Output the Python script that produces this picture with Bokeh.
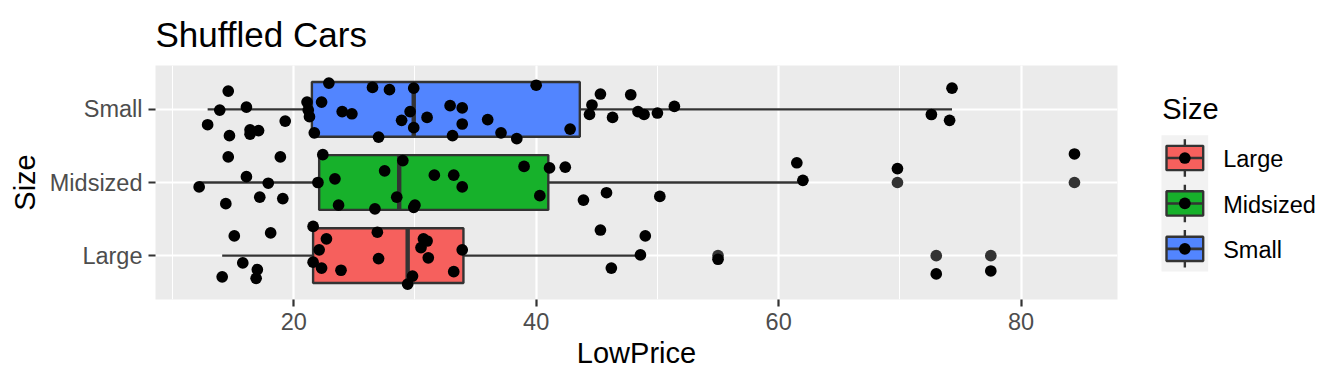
from bokeh.plotting import figure
from bokeh.models import Range1d, FixedTicker, SingleIntervalTicker, ColumnDataSource
from bokeh.layouts import row
from bokeh.embed import file_html
from bokeh.resources import INLINE
from bokeh.core.properties import value

# ---------------- data ----------------
categories = ["Large", "Midsized", "Small"]
colors = ["#F6605D", "#17B12B", "#5285FF"]

# box statistics (LowPrice), order = categories
q1 = [21.6, 22.1, 21.5]
median = [29.4, 28.7, 29.9]
q3 = [34.0, 41.0, 43.6]
whisker_lo = [14.1, 12.2, 12.9]
whisker_hi = [48.4, 61.8, 74.3]
outliers_large = [55.0, 73.0, 77.5]
outliers_mid = [69.8, 84.4]
outliers_small = []

# jittered observations
large_price = [15.1, 18.1, 21.6, 22.7, 22.1, 21.6, 22.3, 23.9, 26.9, 27.0, 15.8, 17.0, 16.9, 14.1,
               30.7, 31.0, 30.5, 31.1, 33.9, 33.2, 29.8, 29.4, 45.3, 49.0, 48.6, 46.2, 55.0, 73.0, 77.5]
large_jitter = [0.27, 0.31, 0.40, 0.23, 0.08, -0.09, -0.17, -0.20, 0.32, -0.04, -0.10, -0.19, -0.31, -0.29,
                0.23, 0.20, 0.11, -0.03, 0.08, -0.22, -0.28, -0.39, 0.35, 0.27, 0.01, -0.17, -0.05, -0.25, -0.21]
mid_price = [14.6, 18.9, 22.4, 29.0, 27.5, 31.6, 33.2, 33.9, 16.1, 17.9, 12.2, 22.0, 23.4, 14.4, 17.2,
             19.1, 23.7, 26.7, 28.5, 30.0, 29.9, 39.0, 41.1, 42.4, 61.5, 62.0, 45.8, 40.3, 43.9, 50.2, 69.8, 84.4]
mid_jitter = [0.35, 0.35, 0.38, 0.30, 0.16, 0.10, 0.10, -0.06, 0.08, -0.01, -0.06, 0.00, 0.05, -0.29, -0.20,
              -0.22, -0.31, -0.36, -0.20, -0.31, -0.34, 0.22, 0.20, 0.21, 0.27, 0.03, -0.14, -0.18, -0.24, -0.19, 0.19, 0.39]
small_price = [14.6, 13.9, 16.1, 12.9, 14.7, 16.4, 16.4, 17.1, 19.3, 21.1, 21.2, 21.3, 21.7, 22.9, 22.3,
               24.0, 24.8, 26.5, 27.9, 29.9, 29.6, 28.9, 29.9, 27.0, 31.0, 32.9, 33.9, 33.9, 33.1, 40.0,
               36.0, 37.1, 38.4, 42.8, 45.3, 44.6, 44.4, 46.3, 47.8, 48.4, 48.9, 50.0, 51.4, 74.3, 72.6, 74.1]
small_jitter = [0.25, -0.01, 0.03, -0.21, -0.36, -0.28, -0.34, -0.29, -0.16, 0.10, -0.01, -0.10, -0.32, 0.36, 0.10,
                -0.03, -0.06, 0.30, 0.27, 0.29, -0.03, -0.15, -0.25, -0.38, -0.11, 0.05, 0.02, -0.20, -0.36, 0.33,
                -0.14, -0.32, -0.40, -0.27, 0.21, 0.06, -0.07, -0.11, 0.20, -0.03, -0.07, -0.05, 0.04, 0.29, -0.07, -0.15]

title_text = "Shuffled Cars"
x_label = "LowPrice"
y_label = "Size"

# ---------------- style ----------------
FONT = "Liberation Sans"
DARK = "#333333"
BOX_HALF = 0.375
TOP, BOTTOM = 62, 85
H = 384

p = figure(width=1130, height=H, output_backend="svg", toolbar_location=None,
           x_range=Range1d(8.6, 87.95), y_range=Range1d(0.4, 3.6),
           min_border_left=155, min_border_right=13, min_border_top=TOP, min_border_bottom=BOTTOM,
           title=title_text, x_axis_label=x_label, y_axis_label=y_label)
p.background_fill_color = "#EBEBEB"
p.border_fill_color = "white"
p.outline_line_color = None

p.title.text_font = FONT
p.title.text_font_size = "35px"
p.title.text_font_style = "normal"
p.title.text_color = "black"
p.title.align = "left"
p.title.standoff = 24

xt = SingleIntervalTicker(interval=20, num_minor_ticks=2)
p.xaxis.ticker = xt
p.xgrid.ticker = xt
yt = FixedTicker(ticks=[1, 2, 3])
p.yaxis.ticker = yt
p.ygrid.ticker = yt
p.yaxis.major_label_overrides = {i + 1: c for i, c in enumerate(categories)}

p.grid.grid_line_color = "white"
p.grid.grid_line_width = 2.2
p.xgrid.minor_grid_line_color = "white"
p.xgrid.minor_grid_line_width = 1.1

for ax in (p.xaxis[0], p.yaxis[0]):
    ax.axis_line_color = None
    ax.major_tick_line_color = DARK
    ax.major_tick_line_width = 2.2
    ax.major_tick_out = 7
    ax.major_tick_in = 0
    ax.minor_tick_line_color = None
    ax.major_label_text_color = "#4D4D4D"
    ax.major_label_text_font = FONT
    ax.major_label_text_font_size = "23.5px"
    ax.major_label_standoff = 6
    ax.axis_label_text_font = FONT
    ax.axis_label_text_font_size = "29px"
    ax.axis_label_text_font_style = "normal"
    ax.axis_label_text_color = "black"
p.xaxis.axis_label_standoff = 4
p.yaxis.axis_label_standoff = 6

ypos = [i + 1 for i in range(len(categories))]
box_src = ColumnDataSource(dict(
    y=ypos, q1=q1, q3=q3, med=median, lo=whisker_lo, hi=whisker_hi, color=colors,
    y0=[y - BOX_HALF for y in ypos], y1=[y + BOX_HALF for y in ypos]))

p.segment(x0="lo", x1="q1", y0="y", y1="y", source=box_src, line_color=DARK, line_width=2.4)
p.segment(x0="q3", x1="hi", y0="y", y1="y", source=box_src, line_color=DARK, line_width=2.4)
p.hbar(y="y", left="q1", right="q3", height=2 * BOX_HALF, source=box_src,
       fill_color="color", line_color=DARK, line_width=2.4)
p.segment(x0="med", x1="med", y0="y0", y1="y1", source=box_src, line_color=DARK, line_width=4.4)

out_x, out_y = [], []
for i, outs in enumerate([outliers_large, outliers_mid, outliers_small]):
    out_x += outs
    out_y += [ypos[i]] * len(outs)
p.scatter(out_x, out_y, size=11.7, fill_color=DARK, line_color=None)

pt_x, pt_y = [], []
for i, (pr, jt) in enumerate([(large_price, large_jitter), (mid_price, mid_jitter), (small_price, small_jitter)]):
    pt_x += pr
    pt_y += [ypos[i] + j for j in jt]
p.scatter(pt_x, pt_y, size=11.7, fill_color="black", line_color=None)

# ---------------- legend (separate panel, pixel coordinates) ----------------
leg = figure(width=214, height=H, output_backend="svg", toolbar_location=None,
             x_range=Range1d(0, 214), y_range=Range1d(H - BOTTOM, TOP),
             x_axis_type=None, y_axis_type=None,
             min_border_left=0, min_border_right=0, min_border_top=TOP, min_border_bottom=BOTTOM)
leg.outline_line_color = None
leg.background_fill_color = "white"
leg.border_fill_color = "white"
leg.grid.visible = False

KEY_TOP, KEY_H, KEY_L, KEY_R = 132.7, 46, 31, 77.7
KX = (KEY_L + KEY_R) / 2
centers = [KEY_TOP + KEY_H * (i + 0.5) for i in range(len(categories))]
leg.quad(left=KEY_L, right=KEY_R, top=KEY_TOP, bottom=KEY_TOP + KEY_H * len(categories),
         fill_color="#F2F2F2", line_color=None)
leg.segment(x0=[KX] * 3, x1=[KX] * 3, y0=[c - 19 for c in centers], y1=[c + 19 for c in centers],
            line_color=DARK, line_width=2.4)
leg.rect(x=[KX] * 3, y=centers, width=36.7, height=24.6, fill_color=colors,
         line_color=DARK, line_width=2.4)
leg.segment(x0=[KX - 18.3] * 3, x1=[KX + 18.3] * 3, y0=centers, y1=centers,
            line_color=DARK, line_width=2.6)
leg.scatter(x=[KX] * 3, y=centers, size=11.7, fill_color="black", line_color=None)
leg.text(x=[92.7] * 3, y=[c + 1.5 for c in centers], text=categories,
         text_font=value(FONT), text_font_size="23.5px", text_baseline="middle",
         text_align="left", text_color="black")
leg.text(x=[31.7], y=[106], text=[y_label], text_font=value(FONT), text_font_size="29px",
         text_baseline="middle", text_align="left", text_color="black")

layout = row(p, leg, spacing=0)
open("out.html", "w").write(file_html(layout, INLINE))
